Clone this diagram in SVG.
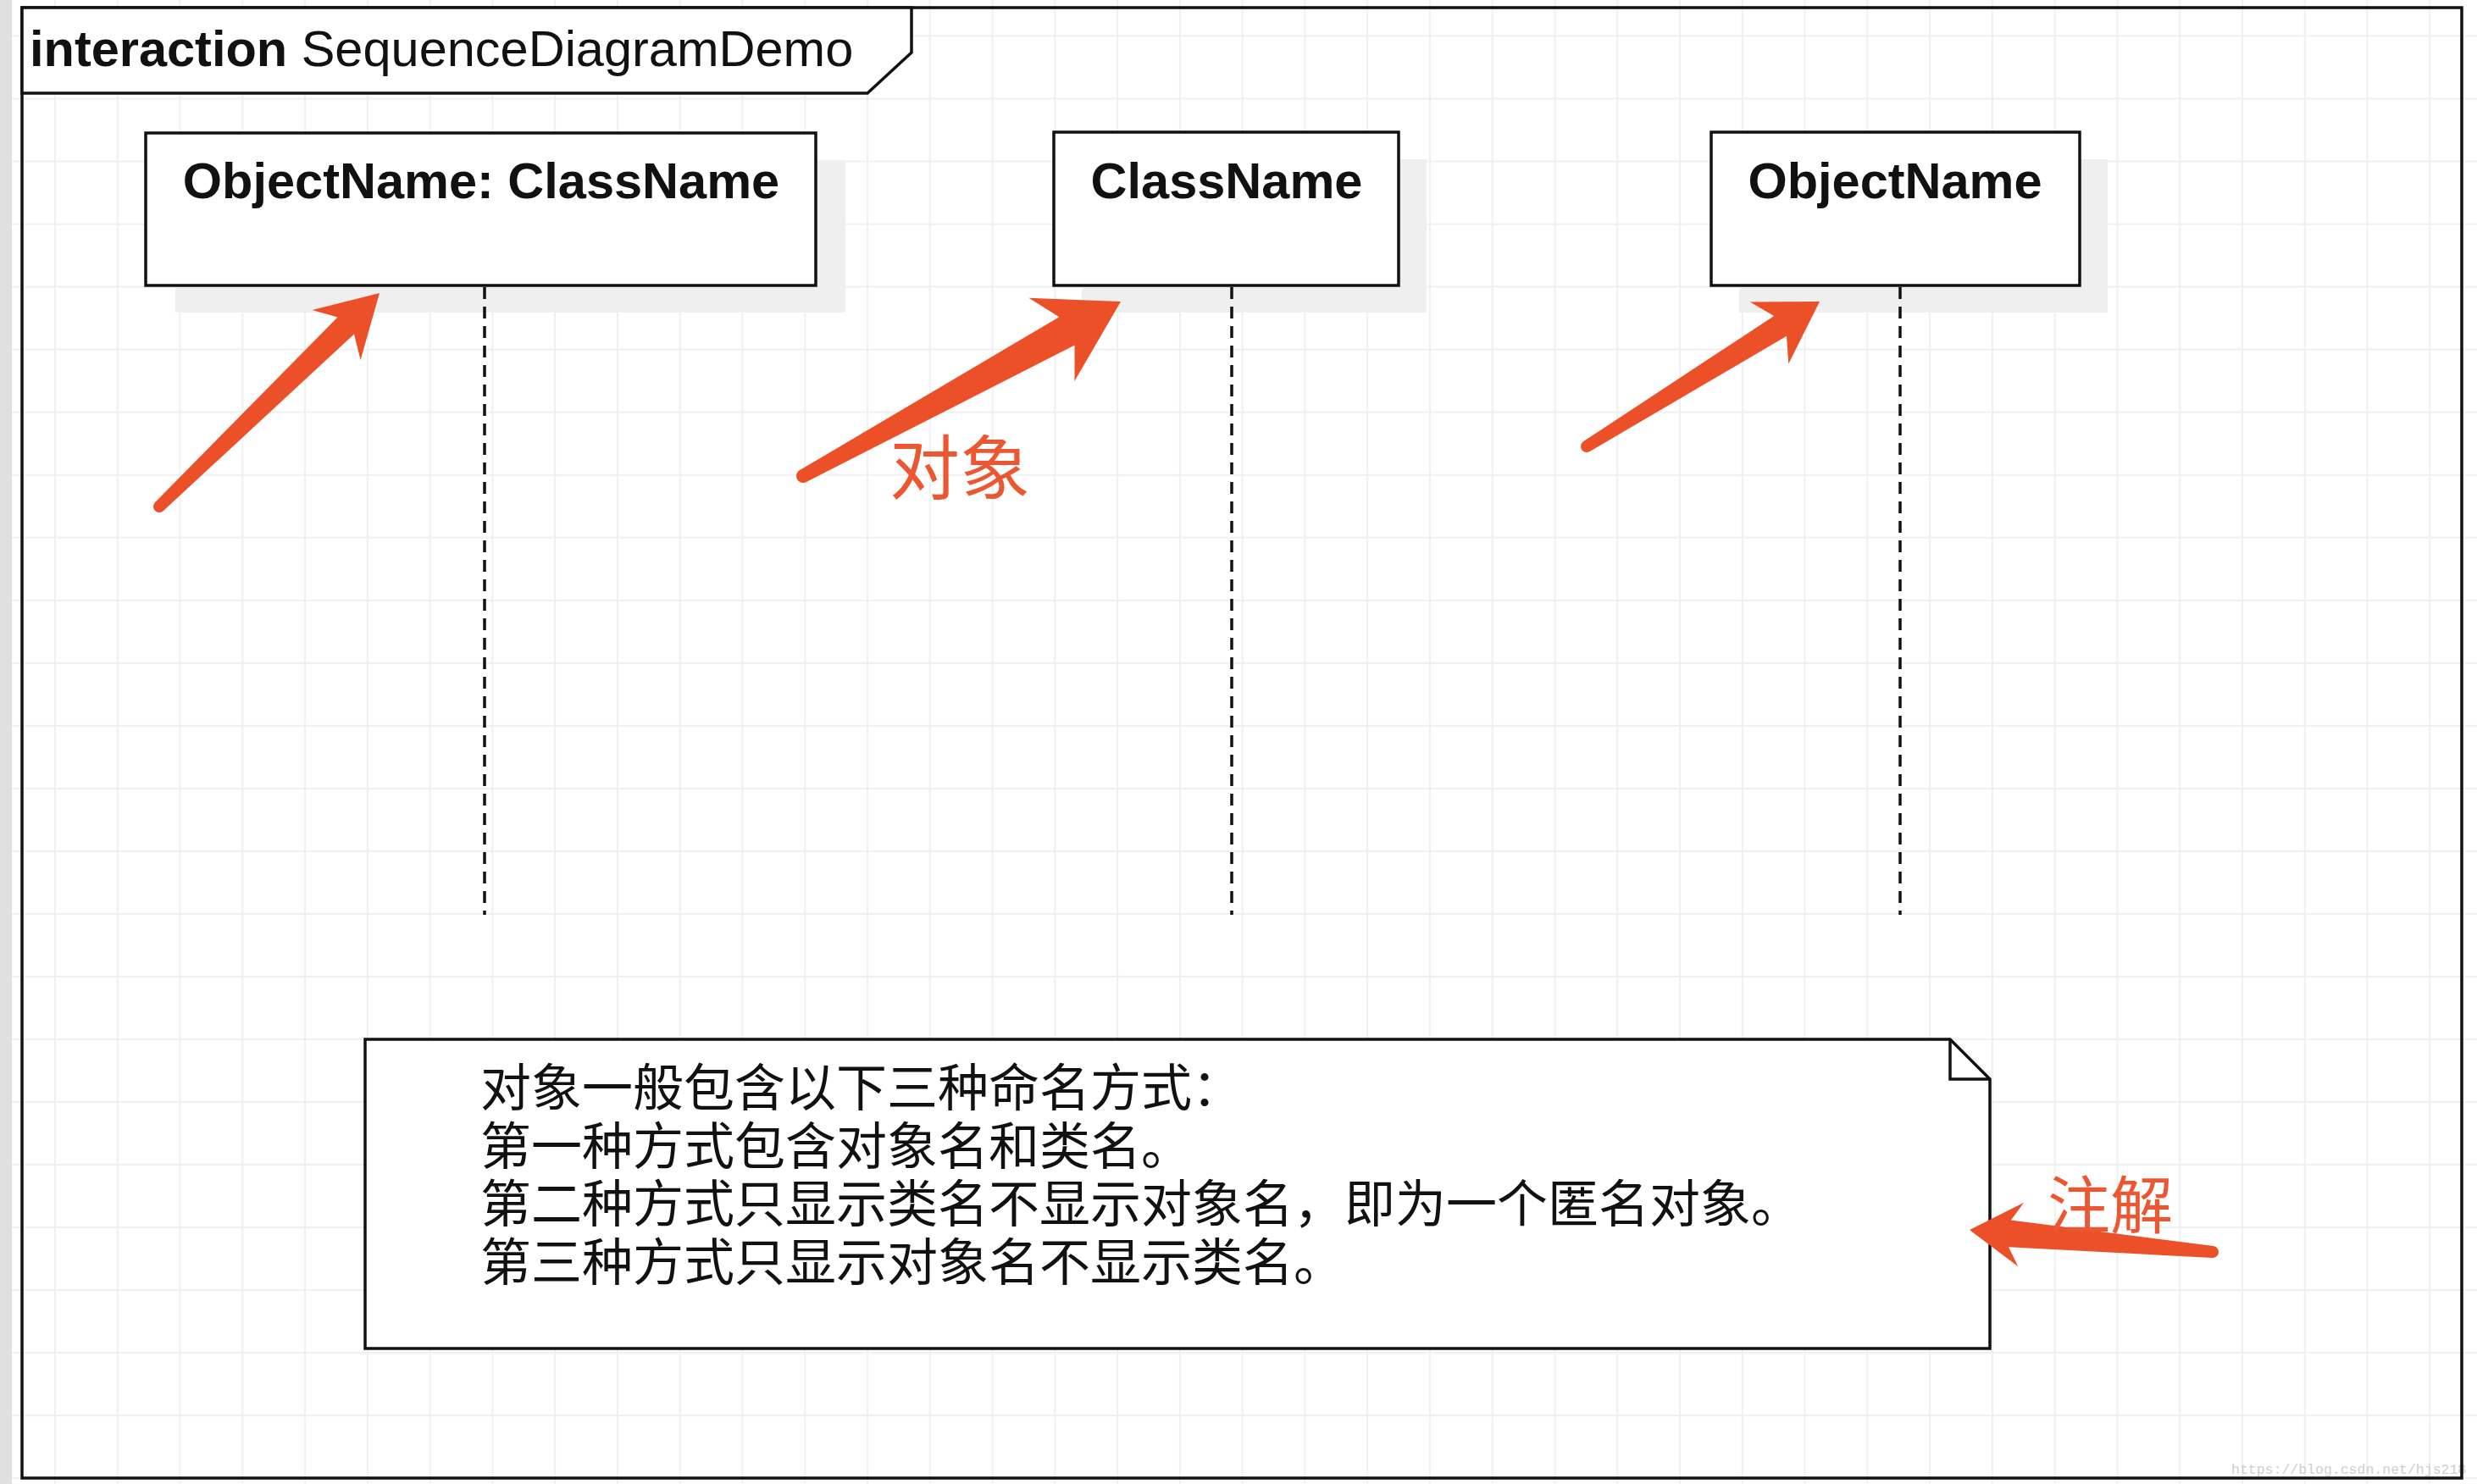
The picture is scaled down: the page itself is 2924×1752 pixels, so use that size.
<svg xmlns="http://www.w3.org/2000/svg" width="2924" height="1752" viewBox="0 0 2924 1752">
  <defs>
    <pattern id="grid" x="64" y="41.5" width="73.77" height="74.03" patternUnits="userSpaceOnUse">
      <path d="M1,0 V74.03 M0,1 H73.77" stroke="#f0f0f0" stroke-width="2" fill="none"/>
    </pattern>
    <style>
      .frame { fill: none; stroke: #111; stroke-width: 3.5; }
      .box { fill: #fff; stroke: #111; stroke-width: 3.5; }
      .shadow { fill: #efefef; }
      .label { font-family: "Liberation Sans", Arial, sans-serif; font-weight: bold; font-size: 59.5px; fill: #111; text-anchor: middle; }
      .title { font-family: "Liberation Sans", Arial, sans-serif; font-size: 59.5px; fill: #111; }
      .lifeline { stroke: #111; stroke-width: 3.5; stroke-dasharray: 14 9; fill: none; }
      .note-text { font-family: "Liberation Sans", "Noto Sans CJK SC", sans-serif; font-size: 60px; fill: #111; }
      .red { fill: #eb5028; }
      .red-text { font-family: "Noto Sans CJK SC", "Noto Sans", sans-serif; fill: #ec5630; }
    </style>
  </defs>

  <!-- background and grid -->
  <rect x="0" y="0" width="2924" height="1752" fill="#ffffff"/>
  <rect x="0" y="0" width="2924" height="1752" fill="url(#grid)"/>
  <rect x="0" y="0" width="14" height="1752" fill="#e0e0e0"/>

  <!-- watermark -->
  <text x="2634" y="1740" font-family="Liberation Mono, monospace" font-size="16.5" fill="#cfcfcf">https://blog.csdn.net/hjs218</text>

  <!-- interaction frame -->
  <g id="frame">
    <rect class="frame" x="26" y="9" width="2880" height="1736"/>
    <path d="M26,9 H1076 V62 L1024,110 H26 Z" fill="#fff" stroke="#111" stroke-width="3.5"/>
    <text class="title" x="35" y="78"><tspan font-weight="bold">interaction</tspan> SequenceDiagramDemo</text>
  </g>

  <!-- lifeline heads -->
  <g id="node-objectname-classname">
    <rect class="shadow" x="207" y="189" width="791" height="180"/>
    <rect class="box" x="172" y="157" width="791" height="180"/>
    <text class="label" x="568" y="234">ObjectName: ClassName</text>
  </g>
  <g id="node-classname">
    <rect class="shadow" x="1277" y="188" width="407" height="181"/>
    <rect class="box" x="1244" y="156" width="407" height="181"/>
    <text class="label" x="1448" y="234">ClassName</text>
  </g>
  <g id="node-objectname">
    <rect class="shadow" x="2053" y="188" width="435" height="181"/>
    <rect class="box" x="2020" y="156" width="435" height="181"/>
    <text class="label" x="2237" y="234">ObjectName</text>
  </g>

  <!-- note -->
  <g id="note">
    <path d="M431,1227 H2302 L2349,1274 V1592 H431 Z" fill="#fff" stroke="#111" stroke-width="3.5" stroke-linejoin="miter"/>
    <path d="M2302,1227 V1274 H2349" fill="none" stroke="#111" stroke-width="3.5"/>
    <text class="note-text" x="567" y="1306"><tspan x="567" y="1306">对象一般包含以下三种命名方式：</tspan><tspan x="567" y="1374.5">第一种方式包含对象名和类名。</tspan><tspan x="567" y="1443">第二种方式只显示类名不显示对象名，即为一个匿名对象。</tspan><tspan x="567" y="1511.5">第三种方式只显示对象名不显示类名。</tspan></text>
  </g>

  <!-- connectors: lifelines -->
  <g id="connectors">
    <line class="lifeline" x1="572" y1="339" x2="572" y2="1080"/>
    <line class="lifeline" x1="1454" y1="339" x2="1454" y2="1080"/>
    <line class="lifeline" x1="2243" y1="339" x2="2243" y2="1080"/>
  </g>

  <!-- red annotation arrows and labels -->
  <g id="annotations">
    <polygon class="red" points="448,346 368.5,366 398.5,374.5 183.1,593 192.9,603 418,394.6 425.6,424.9"/>
    <circle class="red" cx="188" cy="598" r="7"/>

    <polygon class="red" points="1323,356 1214.5,351.7 1250.3,374.3 944.2,555 951.9,569 1268.6,407.6 1268.5,449.9"/>
    <circle class="red" cx="948" cy="562" r="8"/>

    <polygon class="red" points="2148,356 2065.8,356.5 2094.2,372.9 1869.3,521.1 1876.7,533 2109,396.7 2111.3,429.5"/>
    <circle class="red" cx="1873" cy="527" r="7"/>

    <polygon class="red" points="2325,1452 2389.2,1419.7 2373.8,1440.4 2612.6,1471 2611.4,1485 2371,1472.2 2382.3,1495.3"/>
    <circle class="red" cx="2612" cy="1478" r="7"/>

    <text class="red-text" x="1050" y="583" font-size="83">对象</text>
    <text class="red-text" x="2417" y="1450" font-size="74">注解</text>
  </g>
</svg>
